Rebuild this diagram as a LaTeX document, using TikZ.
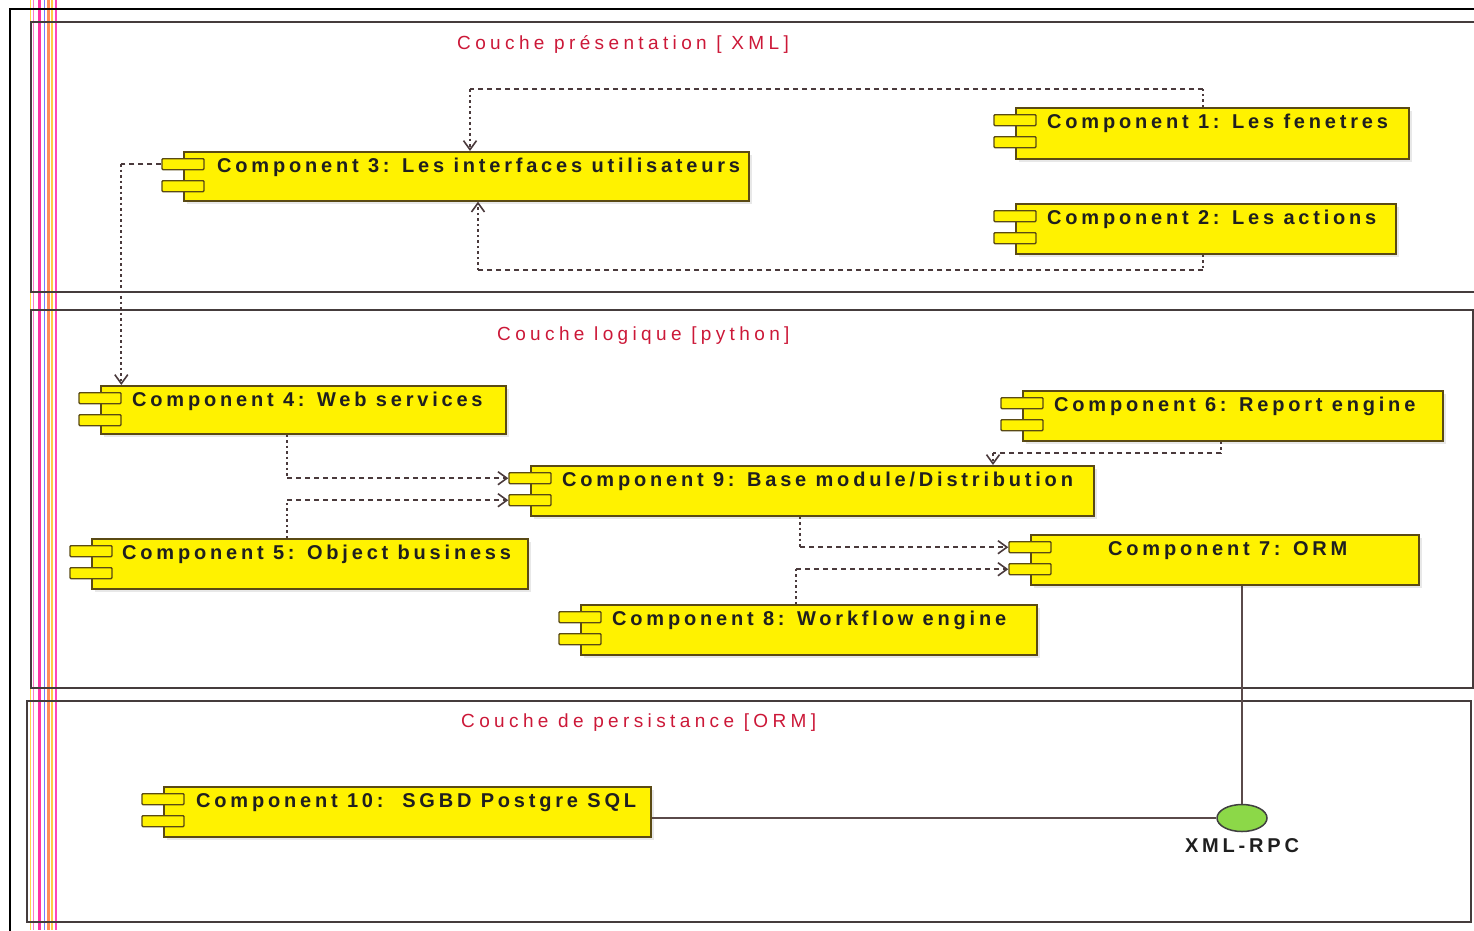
\documentclass[tikz,border=0pt]{standalone}
\usepackage{fontspec}
\newfontfamily\compfont[LetterSpace=19]{Liberation Sans}
\newfontfamily\titlefont[LetterSpace=23]{Liberation Sans}
\usetikzlibrary{arrows.meta,shapes.geometric}

\definecolor{boxfill}{HTML}{FFF200}
\definecolor{boxedge}{HTML}{5A4A14}
\definecolor{frameln}{HTML}{453C3C}
\definecolor{titlered}{HTML}{CC1838}
\definecolor{depln}{HTML}{4A3A3C}
\definecolor{rpcgreen}{HTML}{8CD848}
\definecolor{wireln}{HTML}{5A4A4A}

% UML component: name, left, top, right, bottom, text indent, label
\newcommand\umlcomp[7]{%
  \fill[compshadow] (#2+4,#3+4) rectangle (#4+4,#5+4);
  \node[compbox, anchor=north west, minimum width={(#4-#2)*1pt},
        minimum height={(#5-#3)*1pt}] (#1) at (#2,#3) {};
  \node[compport, anchor=north] (#1p1) at (#2,#3+7) {};
  \node[compport, anchor=north] (#1p2) at (#2,#3+29) {};
  \node[comptext, anchor=base west] (#1t) at (#2+#6,#3+21) {#7};
}

\begin{document}
\begin{tikzpicture}[x=1pt,y=-1pt,
  compbox/.style={draw=boxedge, fill=boxfill, line width=1.6pt, inner sep=0pt, rectangle},
  compport/.style={draw=boxedge, fill=boxfill, line width=1.4pt, inner sep=0pt,
                   minimum width=42pt, minimum height=11pt, rounded corners=1pt},
  compshadow/.style={fill=black!9},
  comptext/.style={font=\compfont\bfseries\fontsize{20}{22}\selectfont, text=black!88, inner sep=0pt},
  layertitle/.style={font=\titlefont\fontsize{19}{21}\selectfont, text=titlered, inner sep=0pt},
  panel/.style={draw=frameln, line width=2pt},
  depH/.style={draw=depln, line width=1.8pt, dash pattern=on 5pt off 4pt},
  depV/.style={draw=depln, line width=2pt, dash pattern=on 2.5pt off 3pt},
  deptip/.style={-{Straight Barb[length=9pt,width=13pt,line width=1.6pt]}},
  wire/.style={draw=wireln, line width=2pt},
]
\useasboundingbox (0,0) rectangle (1474,930);
\clip (0,0) rectangle (1474,930);
\fill[white] (0,0) rectangle (1474,930);

% coloured margin stripes
\draw[line width=1.4pt, color={rgb,255:red,255;green,215;blue,70}] (30.5,0) -- (30.5,930);
\draw[line width=1.3pt, color={rgb,255:red,255;green,120;blue,200}] (33.5,0) -- (33.5,930);
\draw[line width=3.5pt, color={rgb,255:red,255;green,50;blue,165}] (39.5,0) -- (39.5,930);
\draw[line width=1.1pt, color={rgb,255:red,120;green,120;blue,255}] (44.5,0) -- (44.5,930);
\draw[line width=2.2pt, color={rgb,255:red,255;green,140;blue,90}] (48.5,0) -- (48.5,930);
\draw[line width=1.4pt, color={rgb,255:red,255;green,205;blue,70}] (52,0) -- (52,930);
\draw[line width=2.2pt, color={rgb,255:red,255;green,70;blue,185}] (56,0) -- (56,930);

% outer frame
\draw[black, line width=2.4pt] (10,932) -- (10,9) -- (1476,9);

% layer panels
\draw[panel] (1478,22) -- (31,22) -- (31,292) -- (1478,292);
\draw[panel] (31,310) rectangle (1473,688);
\draw[panel] (27,701) rectangle (1471,922);

\node[layertitle, anchor=base west] (t1) at (457,49) {Couche présentation [ XML]};
\node[layertitle, anchor=base west] (t2) at (497,340) {Couche logique [python]};
\node[layertitle, anchor=base west] (t3) at (461,727) {Couche de persistance [ORM]};

% components
\umlcomp{c1}{1015}{107}{1408}{158}{32}{Component 1: Les fenetres}
\umlcomp{c2}{1015}{203}{1395}{253}{32}{Component 2: Les actions}
\umlcomp{c3}{183}{151}{748}{200}{34}{Component 3: Les interfaces utilisateurs}
\umlcomp{c4}{100}{385}{505}{433}{32}{Component 4: Web services}
\umlcomp{c5}{91}{538}{527}{588}{31}{Component 5: Object business}
\umlcomp{c6}{1022}{390}{1442}{440}{32}{Component 6: Report engine}
\umlcomp{c9}{530}{465}{1093}{515}{32}{Component 9: Base module/Distribution}
\umlcomp{c7}{1030}{534}{1418}{584}{78}{Component 7: ORM}
\umlcomp{c8}{580}{604}{1036}{654}{32}{Component 8: Workflow engine}
\umlcomp{c10}{163}{786}{650}{836}{33}{Component 10:\ \ SGBD Postgre SQL}

% XML-RPC interface
\node[ellipse, draw=black!75, fill=rpcgreen, line width=1.5pt, minimum width=50pt,
      minimum height=27pt, inner sep=0pt] (rpc) at (1242,818) {};
\node[comptext, anchor=base] (rpcl) at (1242,852) {XML-RPC};
\draw[wire] (c7.south -| rpc.north) -- (rpc.north);
\draw[wire] (rpc.west -| c10.east) -- (rpc.west);

% dependencies
\coordinate (b1) at (1203,89);
\coordinate (b2) at (470,89);
\draw[depV] (c1.north -| b1) -- (b1);
\draw[depH] (b1) -- (b2);
\draw[depV, deptip] (b2) -- (b2 |- c3.north);

\coordinate (b3) at (1203,270);
\coordinate (b4) at (478,270);
\draw[depV] (c2.south -| b3) -- (b3);
\draw[depH] (b3) -- (b4);
\draw[depV, deptip] (b4) -- (b4 |- c3.south);

\path (c3p1.west) ++(-40,0) coordinate (b5);
\draw[depH] (c3p1.west) -- (b5);
\draw[depV, deptip] (b5) -- (b5 |- c4.north);

\coordinate (b6) at (287,0);
\draw[depV] (c4.south -| b6) -- (c9p1.west -| b6);
\draw[depH, deptip] (c9p1.west -| b6) -- (c9p1.west);
\draw[depV] (c5.north -| b6) -- (c9p2.west -| b6);
\draw[depH, deptip] (c9p2.west -| b6) -- (c9p2.west);

\coordinate (b7) at (1221,453);
\coordinate (b8) at (993,453);
\draw[depV] (c6.south -| b7) -- (b7);
\draw[depH] (b7) -- (b8);
\draw[depV, deptip] (b8) -- (b8 |- c9.north);

\coordinate (b9) at (800,0);
\draw[depV] (c9.south -| b9) -- (c7p1.west -| b9);
\draw[depH, deptip] (c7p1.west -| b9) -- (c7p1.west);

\coordinate (b10) at (796,0);
\draw[depV] (c8.north -| b10) -- (c7p2.west -| b10);
\draw[depH, deptip] (c7p2.west -| b10) -- (c7p2.west);
\end{tikzpicture}
\end{document}
